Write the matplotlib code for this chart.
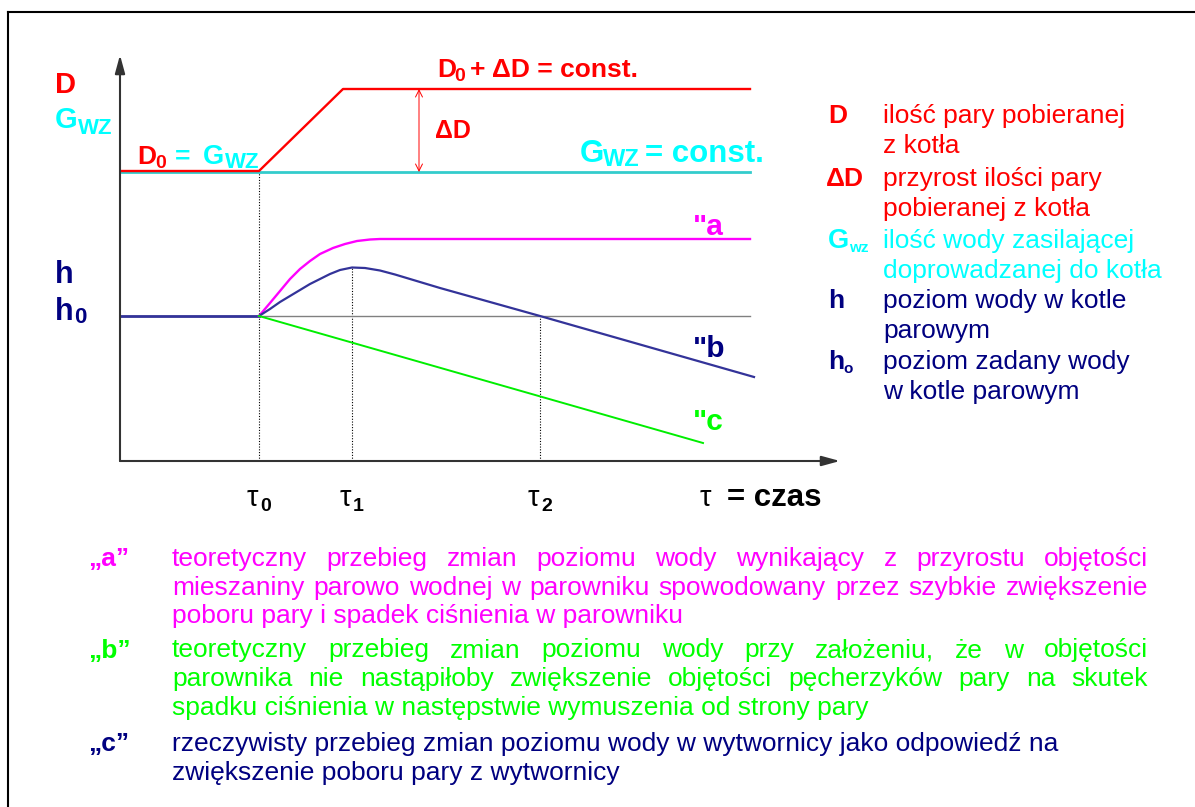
import matplotlib
matplotlib.use("Agg")
import matplotlib.pyplot as plt

plt.rcParams["font.family"] = ["Liberation Sans", "DejaVu Sans"]

RED = "#ff0000"
CYAN = "#00ffff"
MAGENTA = "#ff00ff"
GREEN = "#00ff00"
NAVY = "#000080"

# time marks (chart units, 1 unit = 10 px)
tau0, tau1, tau2 = 13.9, 23.2, 42.0
t_end = 63.0

# steam flow D and feed water G_wz
red_x = [0, tau0, 22.3, t_end]
red_y = [29.0, 29.0, 37.2, 37.2]
cyan_x = [0, t_end]
cyan_y = [28.9, 28.9]
delta_x = 29.9

# water level curves
h0 = 14.5
a_x = [tau0, 15.0, 16.0, 17.0, 18.0, 19.0, 20.0, 21.3, 22.5, 23.7, 25.0, 26.0, t_end]
a_y = [14.5, 15.8, 17.0, 18.2, 19.2, 20.0, 20.7, 21.3, 21.7, 22.0, 22.15, 22.2, 22.2]
b_x = [tau0, 15.0, 16.0, 17.0, 18.0, 19.0, 20.0, 21.0, 22.0, 23.2, 24.5, 26.0,
       27.5, 29.0, 30.5, 32.0, 42.0, 63.4]
b_y = [14.5, 15.2, 15.9, 16.5, 17.1, 17.7, 18.2, 18.7, 19.1, 19.35, 19.3, 19.05,
       18.65, 18.2, 17.75, 17.3, 14.5, 8.4]
c_x = [tau0, 58.3]
c_y = [14.5, 1.8]
peak_b = 19.35

legend_txt = [["ilość pary pobieranej", "z kotła"],
              ["przyrost ilości pary", "pobieranej z kotła"],
              ["ilość wody zasilającej", "doprowadzanej do kotła"],
              ["poziom wody w kotle", "parowym"],
              ["poziom zadany wody", "w kotle parowym"]]
legend_col = [RED, RED, CYAN, NAVY, NAVY]

notes_lbl = ["„a”", "„b”", "„c”"]
notes_col = [MAGENTA, GREEN, NAVY]
notes_txt = [
    ["teoretyczny przebieg zmian poziomu wody wynikający z przyrostu objętości",
     "mieszaniny parowo wodnej w parowniku spowodowany przez szybkie zwiększenie",
     "poboru pary i spadek ciśnienia w parowniku"],
    ["teoretyczny przebieg zmian poziomu wody przy założeniu, że w objętości",
     "parownika nie nastąpiłoby zwiększenie objętości pęcherzyków pary na skutek",
     "spadku ciśnienia w następstwie wymuszenia od strony pary"],
    ["rzeczywisty przebieg zmian poziomu wody w wytwornicy jako odpowiedź na",
     "zwiększenie poboru pary z wytwornicy"],
]
notes_just = [[True, True, False], [True, True, False], [False, False]]

W, H = 1195, 807
fig = plt.figure(figsize=(W / 100, H / 100), dpi=100)

# text / frame layer in pixel units
tx = fig.add_axes([0, 0, 1, 1])
tx.set_xlim(0, W)
tx.set_ylim(H, 0)
tx.axis("off")
tx.plot([8, 8], [12, H], color="black", lw=1.5)
tx.plot([8, W], [12, 12], color="black", lw=1.5)

# chart
ax = fig.add_axes([120 / W, (H - 461) / H, 720 / W, 406 / H])
ax.set_xlim(0, 72)
ax.set_ylim(0, 40.6)
ax.axis("off")

axis_arrow = dict(arrowstyle="-|>,head_length=1.1,head_width=0.3",
                  color="#333333", lw=1.5, shrinkA=0, shrinkB=0)
ax.annotate("", xy=(0, 40.6), xytext=(0, 0), arrowprops=axis_arrow,
            annotation_clip=False)
ax.annotate("", xy=(72, 0), xytext=(0, 0), arrowprops=axis_arrow,
            annotation_clip=False)

dots = (0, (1, 1.5))
ax.plot([tau0, tau0], [0, cyan_y[0]], color="black", lw=0.8, ls=dots)
ax.plot([tau1, tau1], [0, peak_b], color="black", lw=0.8, ls=dots)
ax.plot([tau2, tau2], [0, h0], color="black", lw=0.8, ls=dots)

ax.plot([0, t_end], [h0, h0], color="#808080", lw=1.0)
ax.plot([0, tau0], [h0, h0], color="#333399", lw=2.0)
ax.plot(cyan_x, cyan_y, color="#33cccc", lw=2.0)
ax.plot(red_x, red_y, color=RED, lw=1.7)
ax.plot(a_x, a_y, color=MAGENTA, lw=1.7)
ax.plot(b_x, b_y, color="#333399", lw=1.6)
ax.plot(c_x, c_y, color="#00ee00", lw=1.4)
ax.annotate("", xy=(delta_x, red_y[-1]), xytext=(delta_x, cyan_y[0]),
            arrowprops=dict(arrowstyle="<->,head_length=0.5,head_width=0.25",
                            color=RED, lw=0.7, shrinkA=0, shrinkB=0))


def piece(x, y, s, size, color, bold=True):
    tx.text(x, y, s, color=color, fontsize=size,
            fontweight="bold" if bold else "normal")


# chart labels
piece(55, 93, "D", 21, RED)
piece(55, 128, "G", 21, CYAN)
piece(78, 134, "WZ", 16, CYAN)
piece(55, 283, "h", 22, NAVY)
piece(55, 320, "h", 22, NAVY)
piece(74, 323, "0", 16, NAVY)

piece(137, 164, "D", 19, RED)
piece(155, 168, "0", 14, RED)
piece(175, 164, "=", 19, CYAN)
piece(203, 164, "G", 19.5, CYAN)
piece(225, 168, "WZ", 16, CYAN)

piece(437, 77, "D", 19, RED)
piece(454, 81, "0", 14, RED)
piece(470, 77, "+ ΔD = const.", 19, RED)
piece(435, 138, "ΔD", 18, RED)

piece(580, 162, "G", 22.5, CYAN)
piece(603, 166, "WZ", 17, CYAN)
piece(645, 162, "= const.", 22.5, CYAN)

piece(693, 235, '"a', 21.5, MAGENTA)
piece(693, 357, '"b', 21.5, NAVY)
piece(693, 430, '"c', 21.5, GREEN)

for t, d in zip([tau0, tau1, tau2], ["0", "1", "2"]):
    px = 120 + t * 10
    piece(px - 12, 506, "τ", 21, "black", bold=False)
    piece(px + 1, 511, d, 14, "black")
piece(700, 506, "τ", 21, "black", bold=False)
piece(727, 506, "= czas", 22.5, "black")

# right-hand legend
base = [123, 186, 248, 308, 369]
piece(828, base[0], "D", 19, RED)
piece(826, base[1], "ΔD", 19, RED)
piece(828, base[2], "G", 19.5, CYAN)
piece(849, base[2] + 4, "wz", 11, CYAN)
piece(828, base[3], "h", 19, NAVY)
piece(828, base[4], "h", 19, NAVY)
piece(843, base[4] + 4, "o", 11, NAVY)
for lines, col, y in zip(legend_txt, legend_col, base):
    for i, line in enumerate(lines):
        piece(883, y + 30 * i, line, 19, col, bold=False)

# notes below the chart, partly justified
renderer = fig.canvas.get_renderer()
FS = 19


def put_line(text, y, color, justify):
    if not justify:
        tx.text(172, y, text, color=color, fontsize=FS)
        return
    words = text.split()
    objs = [tx.text(0, y, w, color=color, fontsize=FS) for w in words]
    widths = [o.get_window_extent(renderer).width for o in objs]
    gap = (1148 - 172 - sum(widths)) / (len(words) - 1)
    x = 172
    for o, w in zip(objs, widths):
        o.set_x(x)
        x += w + gap


note_base = [566, 657.5, 751]
for lbl, col, lines, just, y0 in zip(notes_lbl, notes_col, notes_txt, notes_just, note_base):
    piece(88, y0, lbl, FS, col)
    for i, (line, j) in enumerate(zip(lines, just)):
        put_line(line, y0 + 28.7 * i, col, j)

fig.savefig("out.png", dpi=100)
